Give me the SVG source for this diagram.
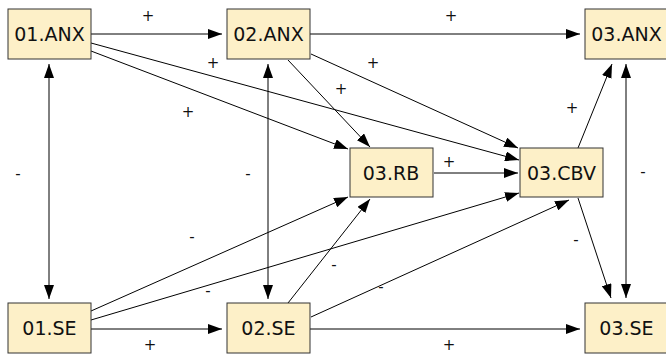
<svg xmlns="http://www.w3.org/2000/svg" width="666" height="355" viewBox="0 0 666 355">
<style>
.box{fill:#fdf0c8;stroke:#333;stroke-width:1}
.nl{font-family:"DejaVu Sans",sans-serif;font-size:19px;fill:#111;text-anchor:middle}
.el{font-family:"DejaVu Sans",sans-serif;font-size:15px;fill:#111;text-anchor:middle}
.e{fill:none;stroke:#000;stroke-width:1;marker-end:url(#ah)}
.b{fill:none;stroke:#000;stroke-width:1;marker-end:url(#ah);marker-start:url(#ah)}
</style>
<defs>
<marker id="ah" markerUnits="userSpaceOnUse" markerWidth="14" markerHeight="10" viewBox="0 0 14 10" refX="14" refY="5" orient="auto-start-reverse">
<path d="M0,0 L14,5 L0,10 z" fill="#000"/>
</marker>
</defs>
<rect width="666" height="355" fill="#fff"/>
<g id="connectors">
<path class="e" d="M91,34 H222"/>
<path class="e" d="M310,34 H580"/>
<path class="e" d="M91,43 L519,160"/>
<path class="e" d="M91,51 L348,149"/>
<path class="e" d="M288,60 L370,147"/>
<path class="e" d="M311,54 L518,148"/>
<path class="e" d="M434,173 H518"/>
<path class="e" d="M578,148 L612,64"/>
<path class="e" d="M578,198 L611,298"/>
<path class="b" d="M49,64 V299"/>
<path class="b" d="M268,64 V299"/>
<path class="b" d="M626,64 V298"/>
<path class="e" d="M91,329 H222"/>
<path class="e" d="M310,329 H580"/>
<path class="e" d="M91,311 L348,197"/>
<path class="e" d="M91,320 L519,193"/>
<path class="e" d="M288,303 L370,199"/>
<path class="e" d="M311,317 L569,200"/>
</g>
<g id="edge-labels">
<text class="el" x="148" y="21">+</text>
<text class="el" x="213" y="68">+</text>
<text class="el" x="188" y="117">+</text>
<text class="el" x="451" y="21">+</text>
<text class="el" x="373" y="68">+</text>
<text class="el" x="341" y="94">+</text>
<text class="el" x="449" y="167">+</text>
<text class="el" x="572" y="113">+</text>
<text class="el" x="18" y="179">-</text>
<text class="el" x="248" y="179">-</text>
<text class="el" x="643" y="177">-</text>
<text class="el" x="192" y="242">-</text>
<text class="el" x="208" y="296">-</text>
<text class="el" x="334" y="270">-</text>
<text class="el" x="381" y="292">-</text>
<text class="el" x="576" y="245">-</text>
<text class="el" x="150" y="350">+</text>
<text class="el" x="449" y="350">+</text>
</g>
<g id="n01ANX"><rect class="box" x="8" y="9" width="83" height="50"/><text class="nl" x="49.5" y="41">01.ANX</text></g>
<g id="n02ANX"><rect class="box" x="227" y="9" width="83" height="50"/><text class="nl" x="268.5" y="41">02.ANX</text></g>
<g id="n03ANX"><rect class="box" x="585" y="9" width="83" height="50"/><text class="nl" x="626.5" y="41">03.ANX</text></g>
<g id="n03RB"><rect class="box" x="350" y="148" width="83" height="49"/><text class="nl" x="391" y="180">03.RB</text></g>
<g id="n03CBV"><rect class="box" x="520" y="148" width="83" height="49"/><text class="nl" x="561.5" y="180">03.CBV</text></g>
<g id="n01SE"><rect class="box" x="8" y="303" width="83" height="50"/><text class="nl" x="49.5" y="335">01.SE</text></g>
<g id="n02SE"><rect class="box" x="227" y="303" width="83" height="50"/><text class="nl" x="268.5" y="335">02.SE</text></g>
<g id="n03SE"><rect class="box" x="585" y="303" width="83" height="50"/><text class="nl" x="626.5" y="335">03.SE</text></g>
</svg>
